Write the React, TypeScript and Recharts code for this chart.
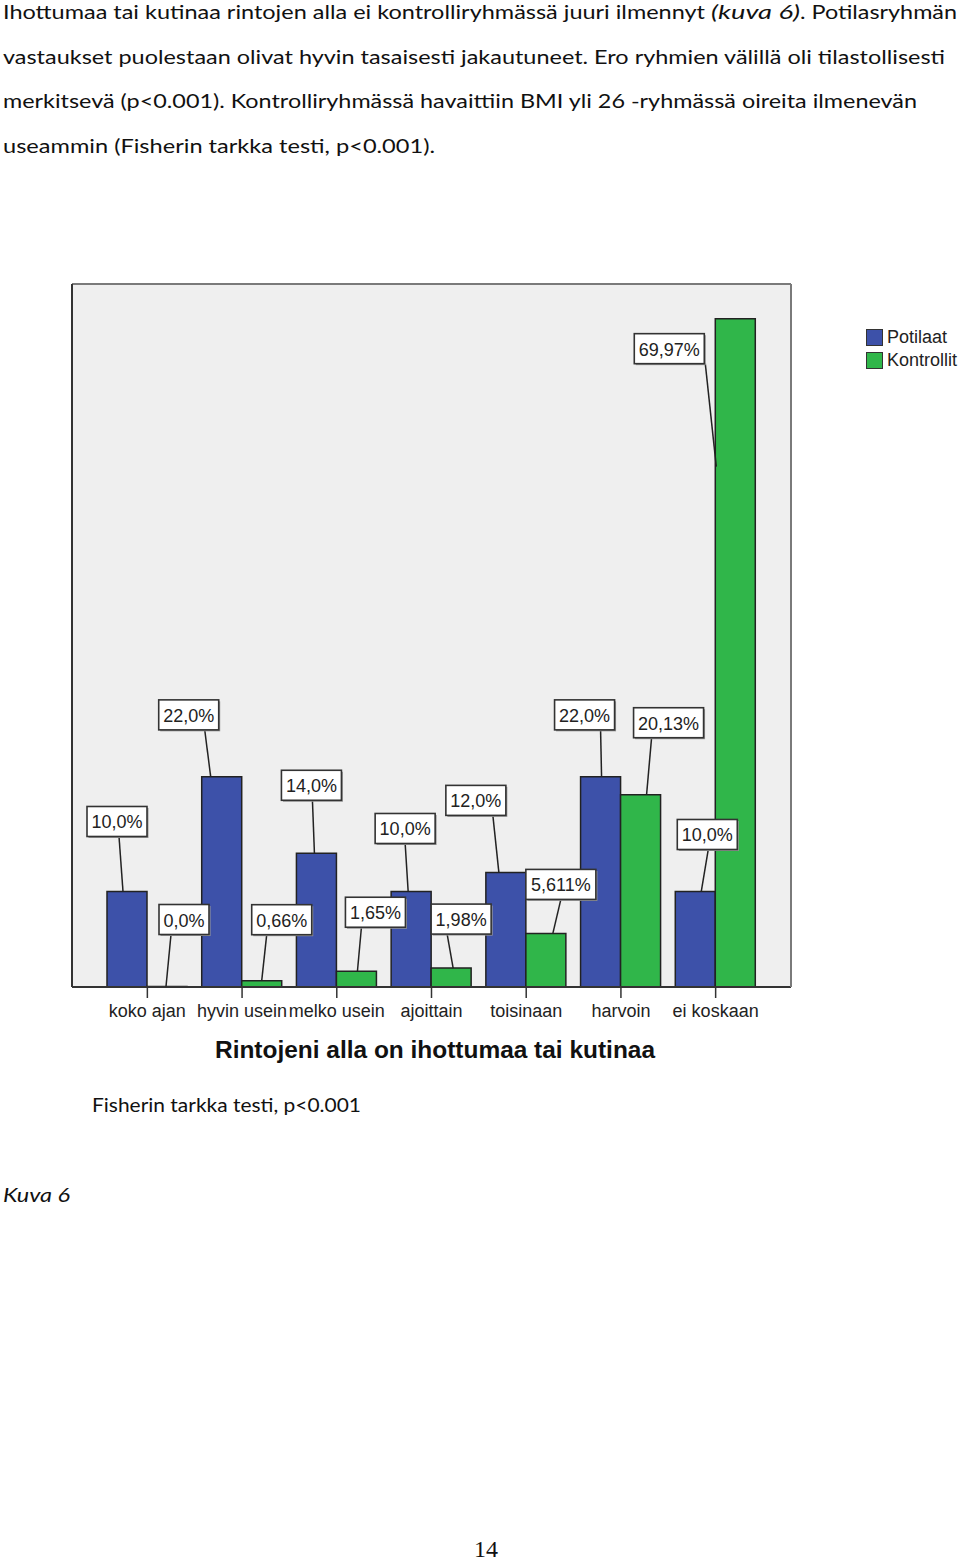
import * as React from 'react'
import { Bar, BarChart, CartesianGrid, LabelList, Legend, XAxis, YAxis } from 'recharts'

const categories = ['koko ajan', 'hyvin usein', 'melko usein', 'ajoittain', 'toisinaan', 'harvoin', 'ei koskaan']
const potilaat = [10, 22, 14, 10, 12, 22, 10]
const kontrollit = [0, 0.66, 1.65, 1.98, 5.611, 20.13, 69.97]
const seriesNames = ['Potilaat', 'Kontrollit']
const axisTitle = 'Rintojeni alla on ihottumaa tai kutinaa'

const data = categories.map((cat, i) => ({ cat, pot: potilaat[i], kon: kontrollit[i] }))

const BLUE = '#3d51a9'
const GREEN = '#30b64a'
const INK = '#222'
const FONT = '"Liberation Sans", Arial, sans-serif'
const BODY_FONT = 'Lato, "Open Sans", sans-serif'

// callout placement as in the SPSS output: box centre relative to the bar top,
// leader start relative to the box centre, leader end relative to the bar top
const potCallouts = [
  { dx: -10, dy: -70, sx: 2, ex: -4, ey: 0 },
  { dx: -33, dy: -62, sx: 16, ex: -11, ey: 0 },
  { dx: -5, dy: -68, sx: 1, ex: -2, ey: 0 },
  { dx: -6, dy: -63, sx: 0, ex: -3, ey: 0 },
  { dx: -30, dy: -72, sx: 17, ex: -7, ey: 0 },
  { dx: -16, dy: -62, sx: 16, ex: 1, ey: 0 },
  { dx: 12, dy: -57, sx: 1, ex: 6, ey: 0 },
]
const konCallouts = [
  { dx: 17, dy: -67, sx: -13, ex: -1, ey: 0 },
  { dx: 20, dy: -61, sx: -15, ex: 0, ey: 0 },
  { dx: 19, dy: -59, sx: -14, ex: 1, ey: 0 },
  { dx: 10, dy: -49, sx: -14, ex: 2, ey: 0 },
  { dx: 15, dy: -49, sx: 0, ex: 7, ey: 0 },
  { dx: 28, dy: -72, sx: -17, ex: 6, ey: 0 },
  { dx: -66, dy: 30, sx: 36, ex: -19, ey: 148 },
]

const fmtPot = (v: number) => v.toFixed(1).replace('.', ',') + '%'
const fmtKon = (v: number) => (Number.isInteger(v) ? v.toFixed(1) : String(v)).replace('.', ',') + '%'

// rough Arial 18px advance widths, enough to size the boxes
const textWidth = (s: string) =>
  [...s].reduce((w, c) => w + (c === ',' ? 5 : c === '%' ? 16 : 10), 0)

const makeCallout =
  (values: number[], fmt: (v: number) => string, layout: typeof potCallouts) => (props: any) => {
    const vb = props.viewBox ?? props
    let i = categories.indexOf(props.value)
    if (i < 0 && typeof props.index === 'number') i = props.index
    if (i < 0) return null
    const pos = layout[i]
    const text = fmt(values[i])
    const cx = vb.x + vb.width / 2
    const top = vb.y
    const bw = textWidth(text) + 9
    const bh = 30
    const bx = cx + pos.dx
    const by = top + pos.dy
    return (
      <g>
        <line
          x1={bx + pos.sx}
          y1={by + bh / 2}
          x2={cx + pos.ex}
          y2={top + pos.ey}
          stroke={INK}
          strokeWidth={1.5}
        />
        <rect x={bx - bw / 2 + 1.5} y={by - bh / 2 + 1.5} width={bw} height={bh} fill="#9a9a9a" />
        <rect x={bx - bw / 2} y={by - bh / 2} width={bw} height={bh} fill="#fff" stroke="#333" strokeWidth={1.6} />
        <text
          x={bx}
          y={by + 1}
          textAnchor="middle"
          dominantBaseline="central"
          fontFamily={FONT}
          fontSize={18}
          fill={INK}
        >
          {text}
        </text>
      </g>
    )
  }

const CategoryTick = (props: any) => {
  const { x, y, payload } = props
  return (
    <text x={x} y={y + 17} textAnchor="middle" fontFamily={FONT} fontSize={18} fill={INK}>
      {payload.value}
    </text>
  )
}

const LegendBox = (props: any) => {
  const items = [...(props.payload ?? [])].sort(
    (a: any, b: any) => seriesNames.indexOf(a.value) - seriesNames.indexOf(b.value)
  )
  return (
    <div style={{ fontFamily: FONT, fontSize: 18, color: INK }}>
      {items.map((p: any) => (
        <div key={p.value} style={{ display: 'flex', alignItems: 'center', height: 23 }}>
          <span
            style={{
              display: 'inline-block',
              width: 15,
              height: 15,
              background: p.color,
              border: '1px solid #333',
              marginRight: 4,
            }}
          />
          {p.value}
        </div>
      ))}
    </div>
  )
}

function Chart() {
  return (
    <BarChart
      width={960}
      height={800}
      data={data}
      margin={{ top: 12, right: 167, bottom: 13, left: 70 }}
      barGap={0}
      barSize={40}
    >
      <CartesianGrid fill="#efefef" horizontal={false} vertical={false} />
      <XAxis
        dataKey="cat"
        interval={0}
        padding={{ left: 28, right: 28 }}
        height={70}
        axisLine={{ stroke: '#333', strokeWidth: 2 }}
        tickLine={{ stroke: '#333', strokeWidth: 1.5 }}
        tickSize={11}
        tick={<CategoryTick />}
      />
      <XAxis
        xAxisId="top"
        dataKey="cat"
        orientation="top"
        height={2}
        tick={false}
        tickLine={false}
        axisLine={{ stroke: '#7a7a7a', strokeWidth: 2 }}
      />
      <YAxis
        domain={[0, 73.6]}
        width={2}
        tick={false}
        tickLine={false}
        axisLine={{ stroke: '#333', strokeWidth: 2 }}
      />
      <YAxis
        yAxisId="right"
        orientation="right"
        width={2}
        tick={false}
        tickLine={false}
        axisLine={{ stroke: '#7a7a7a', strokeWidth: 2 }}
      />
      <Legend
        layout="horizontal"
        verticalAlign="middle"
        align="center"
        content={<LegendBox />}
        wrapperStyle={{ left: 866, top: 56, width: 100 }}
      />
      <Bar dataKey="pot" name={seriesNames[0]} fill={BLUE} stroke={INK} strokeWidth={1.5} isAnimationActive={false}>
        <LabelList dataKey="cat" content={makeCallout(potilaat, fmtPot, potCallouts)} />
      </Bar>
      <Bar
        dataKey="kon"
        name={seriesNames[1]}
        fill={GREEN}
        stroke={INK}
        strokeWidth={1.5}
        minPointSize={0.5}
        isAnimationActive={false}
      >
        <LabelList dataKey="cat" content={makeCallout(kontrollit, fmtKon, konCallouts)} />
      </Bar>
    </BarChart>
  )
}

export default function App() {
  const fit = { lengthAdjust: 'spacingAndGlyphs' as const }
  return (
    <div style={{ position: 'absolute', left: 0, top: 0, width: 960, height: 1563, background: '#fff', overflow: 'hidden' }}>
      <svg width={960} height={1563} style={{ position: 'absolute', left: 0, top: 0 }}>
        <g fontFamily={BODY_FONT} fontSize={18.5} fill="#111">
          <text x={3} y={18.5} textLength={702} {...fit}>
            Ihottumaa tai kutinaa rintojen alla ei kontrolliryhmässä juuri ilmennyt
          </text>
          <text x={711} y={18.5} textLength={89} fontStyle="italic" {...fit}>
            (kuva 6)
          </text>
          <text x={800} y={18.5} textLength={157} {...fit}>
            . Potilasryhmän
          </text>
          <text x={3} y={63.5} textLength={942} {...fit}>
            vastaukset puolestaan olivat hyvin tasaisesti jakautuneet. Ero ryhmien välillä oli tilastollisesti
          </text>
          <text x={3} y={108.3} textLength={914} {...fit}>
            merkitsevä (p&lt;0.001). Kontrolliryhmässä havaittiin BMI yli 26 -ryhmässä oireita ilmenevän
          </text>
          <text x={3} y={153} textLength={432} {...fit}>
            useammin (Fisherin tarkka testi, p&lt;0.001).
          </text>
          <text x={92} y={1111.5} textLength={269} {...fit}>
            Fisherin tarkka testi, p&lt;0.001
          </text>
          <text x={3} y={1202} textLength={67} fontStyle="italic" {...fit}>
            Kuva 6
          </text>
        </g>
        <text
          x={435}
          y={1058}
          textAnchor="middle"
          fontFamily={FONT}
          fontWeight="bold"
          fontSize={23}
          fill="#111"
          textLength={440}
          {...fit}
        >
          {axisTitle}
        </text>
        <text x={474} y={1557} fontFamily='"Liberation Serif", "Times New Roman", serif' fontSize={24} fill="#111">
          14
        </text>
      </svg>
      <div style={{ position: 'absolute', left: 0, top: 270, width: 960, height: 800 }}>
        <Chart />
      </div>
    </div>
  )
}
